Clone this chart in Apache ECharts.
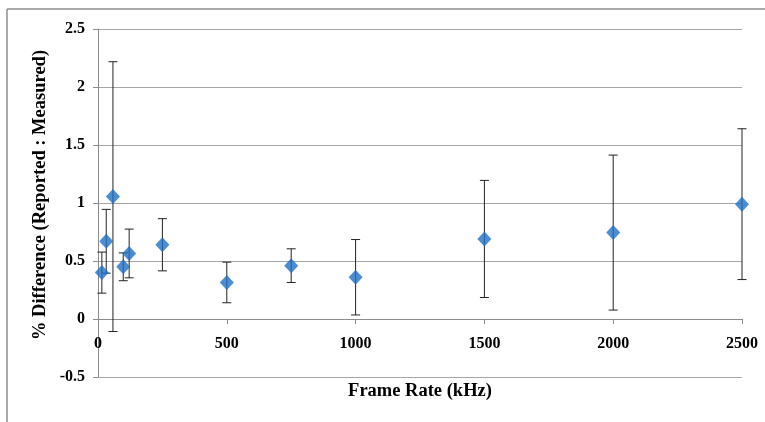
<!DOCTYPE html>
<html>
<head>
<meta charset="utf-8">
<script src="https://cdn.jsdelivr.net/npm/echarts@6/dist/echarts.min.js"></script>
<style>
html,body{margin:0;padding:0;background:#fff;}
#chart{width:765px;height:422px;}
</style>
</head>
<body>
<div id="chart"></div>
<script>
// Data
var frameRates = [15, 32, 58, 98, 121, 250, 500, 750, 1000, 1500, 2000, 2500];
var pctDiff = [0.40, 0.67, 1.055, 0.45, 0.565, 0.64, 0.315, 0.46, 0.36, 0.69, 0.745, 0.99];
var errPlusMinus = [0.177, 0.275, 1.163, 0.12, 0.21, 0.225, 0.175, 0.145, 0.325, 0.505, 0.668, 0.65];
var xTicks = [0, 500, 1000, 1500, 2000, 2500];
var yTicks = [-0.5, 0, 0.5, 1, 1.5, 2, 2.5];

var FONT = '"Liberation Serif", "Times New Roman", serif';

var points = frameRates.map(function (x, i) { return [x, pctDiff[i]]; });
var bars = frameRates.map(function (x, i) { return [x, pctDiff[i] - errPlusMinus[i], pctDiff[i] + errPlusMinus[i]]; });

var chart = echarts.init(document.getElementById('chart'), null, {renderer: 'canvas'});
chart.setOption({
  animation: false,
  backgroundColor: '#ffffff',
  grid: {left: 98, right: 23, top: 29, bottom: 45, containLabel: false, outerBoundsMode: 'none'},
  xAxis: {
    type: 'value',
    min: xTicks[0], max: xTicks[xTicks.length - 1], interval: 500,
    name: 'Frame Rate (kHz)',
    nameLocation: 'middle',
    nameGap: 5,
    nameMoveOverlap: false,
    nameTextStyle: {fontFamily: FONT, fontWeight: 'bold', fontSize: 18.5, color: '#000', verticalAlign: 'top'},
    axisLine: {onZero: true, lineStyle: {color: '#8c8c8c', width: 1}},
    axisTick: {show: true, length: 5, lineStyle: {color: '#8c8c8c'}},
    axisLabel: {margin: -41, fontFamily: FONT, fontWeight: 'bold', fontSize: 16, color: '#000',
      formatter: function (v) { return String(v); }},
    splitLine: {show: false}
  },
  yAxis: {
    type: 'value',
    min: yTicks[0], max: yTicks[yTicks.length - 1], interval: 0.5,
    axisLine: {show: true, lineStyle: {color: '#8c8c8c', width: 1}},
    axisTick: {show: true, length: 5, lineStyle: {color: '#8c8c8c'}},
    axisLabel: {margin: 13, fontFamily: FONT, fontWeight: 'bold', fontSize: 16, color: '#000',
      formatter: function (v) { return String(v); }},
    splitLine: {show: true, lineStyle: {color: '#a6a6a6', width: 1}}
  },
  graphic: [
    {type: 'line', shape: {x1: 7, y1: 9, x2: 765, y2: 9}, style: {stroke: '#8c8c8c', lineWidth: 1.5}, silent: true},
    {type: 'line', shape: {x1: 7, y1: 9, x2: 7, y2: 422}, style: {stroke: '#8c8c8c', lineWidth: 1.5}, silent: true},
    {type: 'text', x: 40, y: 195, rotation: Math.PI / 2,
      style: {text: '% Difference (Reported : Measured)', fontFamily: FONT, fontWeight: 'bold', fontSize: 18.5,
        fill: '#000', align: 'center', verticalAlign: 'middle'}, silent: true}
  ],
  series: [
    {
      type: 'custom',
      name: 'error',
      data: bars,
      z: 2,
      renderItem: function (params, api) {
        var x = api.value(0);
        var lo = api.coord([x, api.value(1)]);
        var hi = api.coord([x, api.value(2)]);
        var w = 4.5;
        var st = {stroke: '#222', lineWidth: 1};
        return {
          type: 'group',
          children: [
            {type: 'line', shape: {x1: lo[0], y1: lo[1], x2: hi[0], y2: hi[1]}, style: st},
            {type: 'line', shape: {x1: hi[0] - w, y1: hi[1], x2: hi[0] + w, y2: hi[1]}, style: st},
            {type: 'line', shape: {x1: lo[0] - w, y1: lo[1], x2: lo[0] + w, y2: lo[1]}, style: st}
          ]
        };
      }
    },
    {
      type: 'scatter',
      data: points,
      symbol: 'diamond',
      symbolSize: [14, 15],
      z: 3,
      itemStyle: {color: '#1f6fc4'}
    }
  ]
});
</script>
</body>
</html>
